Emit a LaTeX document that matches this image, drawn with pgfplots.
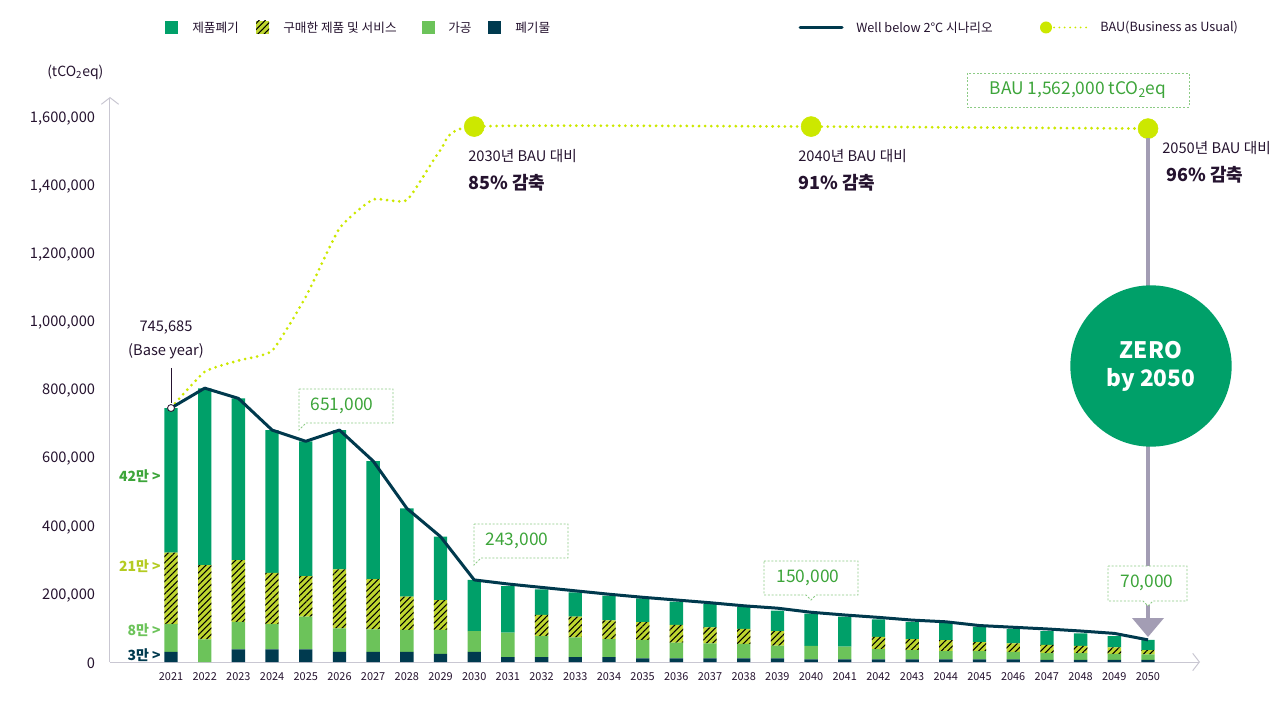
\documentclass[border=0pt]{standalone}
\usepackage{fontspec}
\setmainfont{Noto Sans CJK KR}
\usepackage{pgfplots}
\pgfplotsset{compat=1.18}
\usepackage{pgfplotstable}
\usetikzlibrary{patterns.meta,arrows.meta}

\definecolor{prodg}{HTML}{00A069}
\definecolor{hatchc}{HTML}{BED62F}
\definecolor{procg}{HTML}{6CC35A}
\definecolor{wastec}{HTML}{003A4F}
\definecolor{wbc}{HTML}{00394D}
\definecolor{bauc}{HTML}{CCE800}
\definecolor{txt}{HTML}{25132F}
\definecolor{callg}{HTML}{3DA53A}
\definecolor{boxg}{HTML}{8CCB85}
\definecolor{arrowc}{HTML}{A39DB4}
\definecolor{axisgray}{HTML}{C9C7D2}
\definecolor{lab21}{HTML}{B4CB22}

% stacked bars: 폐기물, 가공, 구매한 제품 및 서비스, 제품폐기
\pgfplotstableread{
year dark light hatch green
2021 30000 81000 210000 424685
2022 0 66600 218000 519000
2023 37000 81000 181000 475000
2024 37000 74000 151000 419000
2025 37000 96000 119000 396000
2026 30000 69000 173000 409000
2027 30000 66000 147000 347000
2028 30000 64000 98000 259000
2029 23500 70500 88000 186000
2030 30000 61000 0 150000
2031 14000 72000 0 137000
2032 14000 62000 62000 75000
2033 14000 58500 60500 71500
2034 14000 53000 55000 73000
2035 11000 54000 52000 70000
2036 11000 46000 52000 68000
2037 11000 44000 47000 68000
2038 11000 42000 44000 64000
2039 11000 37000 43000 60000
2040 8000 39000 0 95000
2041 8000 37000 0 88000
2042 8000 30000 36000 51000
2043 8000 27000 32000 51000
2044 8000 24000 32000 50000
2045 8000 24000 26000 46000
2046 8000 22000 25000 42000
2047 6000 20000 24000 41000
2048 6000 20000 21000 37000
2049 6000 17500 19500 33000
2050 6000 16500 12500 30000
}\bars

% Well below 2°C
\pgfplotstableread{
year v
2021 745685
2022 804000
2023 774000
2024 681000
2025 648000
2026 681000
2027 590000
2028 451000
2029 368000
2030 241000
2031 229000
2032 219000
2033 209000
2034 199000
2035 190000
2036 182000
2037 174000
2038 165000
2039 158000
2040 146000
2041 138000
2042 131000
2043 123000
2044 118000
2045 107000
2046 102000
2047 97000
2048 91000
2049 84000
2050 65000
}\wb

% BAU
\pgfplotstableread{
year v
2021 745685
2022 852000
2023 885000
2024 914000
2025 1072000
2026 1273000
2027 1358000
2028 1356000
2029 1503000
2030 1572000
2040 1572000
2050 1566000
}\bau

\pgfplotsset{base/.style={
  at={(82.5pt,39.75pt)}, anchor=south west, scale only axis,
  width=817.5pt, height=423.75pt,
  xmin=2019.189, xmax=2051.543, ymin=0, ymax=1658800,
  enlargelimits=false, clip=false}}

\begin{document}
\begin{tikzpicture}
\begin{axis}[base, ybar stacked, bar width=10pt,
  axis x line=bottom, axis y line=left,
  axis line style={draw=axisgray, line width=0.75pt},
  x axis line style={-{Straight Barb[length=5pt,width=13pt,line width=0.75pt]}},
  y axis line style={-{Straight Barb[length=5pt,width=13pt,line width=0.75pt]}},
  major tick length=0pt,
  xtick={2021,2022,...,2050},
  ytick={0,200000,400000,600000,800000,1000000,1200000,1400000,1600000},
  scaled y ticks=false,
  /pgf/number format/.cd, fixed, 1000 sep={,}, assume math mode=true, /pgfplots/.cd,
  yticklabel style={font=\fontsize{11}{13}\selectfont, text=txt, anchor=east, inner sep=0pt, xshift=-11pt, yshift=-1pt},
  xticklabel style={font=\fontsize{8.2}{10}\selectfont, text=txt, anchor=north, inner sep=0pt, yshift=-8pt, /pgf/number format/1000 sep={}},
]
\addplot[fill=wastec, draw=none] table[x=year,y=dark]{\bars};
\addplot[fill=procg, draw=none] table[x=year,y=light]{\bars};
\addplot[fill=hatchc, draw=none, postaction={pattern={Lines[angle=45,distance=3.3pt,line width=0.8pt]}, pattern color=black}] table[x=year,y=hatch]{\bars};
\addplot[fill=prodg, draw=none] table[x=year,y=green]{\bars};
\end{axis}

\begin{axis}[base, hide axis]
\addplot[color=bauc, line width=2.3pt, dash pattern=on 0pt off 4.6pt, line cap=round, smooth, tension=0.3, mark=none] table[x=year,y=v]{\bau};
\addplot[color=wbc, line width=2.25pt, line join=round, mark=none] table[x=year,y=v]{\wb};
\addplot[only marks, mark=*, mark size=7.5pt, color=bauc] coordinates {(2030,1572000) (2040,1572000) (2050,1566000)};
\addplot[only marks, mark=*, mark size=2.6pt, mark options={fill=white, draw=txt, line width=0.6pt}] coordinates {(2021,745685)};
\end{axis}

% annotations in pixel coordinates of the reference
\begin{scope}[shift={(0pt,536.25pt)}, x=0.75pt, y=-0.75pt]
  % arrow to 2050
  \draw[arrowc, line width=3pt] (1148,138) -- (1148,622);
  \fill[arrowc] (1132,618) -- (1164,618) -- (1148,637) -- cycle;
  \node[circle, fill=prodg, minimum size=121pt, inner sep=0pt, text=white, align=center,
        font=\fontsize{17}{21}\selectfont\bfseries] at (1151,366) {ZERO\\by 2050};

  % base year
  \draw[txt, line width=0.6pt] (171,368) -- (171,403.5);
  \node[text=txt, font=\fontsize{11}{13}\selectfont] at (166,328) {745,685};
  \node[text=txt, font=\fontsize{11}{13}\selectfont] at (166,351) {(Base year)};

  % callouts
  \tikzset{callout/.style={fill=white, draw=boxg, line width=0.6pt, dash pattern=on 1.5pt off 1.3pt}}
  \filldraw[callout] (299,389) -- (393,389) -- (393,423) -- (306,423) -- (299,430) -- cycle;
  \node[text=callg, font=\fontsize{13}{15}\selectfont] at (342,406) {651,000};
  \filldraw[callout] (474,524) -- (568,524) -- (568,558) -- (481,558) -- (474,565) -- cycle;
  \node[text=callg, font=\fontsize{13}{15}\selectfont] at (517,541) {243,000};
  \filldraw[callout] (764,561) -- (858,561) -- (858,595) -- (816,595) -- (811,600) -- (806,595) -- (764,595) -- cycle;
  \node[text=callg, font=\fontsize{13}{15}\selectfont] at (808,578) {150,000};
  \filldraw[callout] (1108,566) -- (1187,566) -- (1187,601) -- (1153,601) -- (1148,606) -- (1143,601) -- (1108,601) -- cycle;
  \node[text=callg, font=\fontsize{13}{15}\selectfont] at (1147,583) {70,000};
  \filldraw[callout] (967,73) rectangle (1189,107);
  \node[text=callg, font=\fontsize{13}{15}\selectfont] at (1078,90) {BAU 1,562,000 tCO\textsubscript{2}eq};

  % reduction texts
  \node[anchor=west, inner sep=0pt, text=txt, font=\fontsize{11}{13}\selectfont] at (468,156) {2030년 BAU 대비};
  \node[anchor=west, inner sep=0pt, text=txt, font=\fontsize{13.5}{16}\selectfont\bfseries] at (468,183) {85\% 감축};
  \node[anchor=west, inner sep=0pt, text=txt, font=\fontsize{11}{13}\selectfont] at (798,156) {2040년 BAU 대비};
  \node[anchor=west, inner sep=0pt, text=txt, font=\fontsize{13.5}{16}\selectfont\bfseries] at (798,183) {91\% 감축};
  \node[anchor=west, inner sep=0pt, text=txt, font=\fontsize{11}{13}\selectfont] at (1162,148) {2050년 BAU 대비};
  \node[anchor=west, inner sep=0pt, text=txt, font=\fontsize{13.5}{16}\selectfont\bfseries] at (1166,175) {96\% 감축};

  % left share labels
  \node[anchor=east, inner sep=0pt, text=callg, font=\fontsize{10.5}{12}\selectfont\bfseries] at (161,476) {42만 >};
  \node[anchor=east, inner sep=0pt, text=lab21, font=\fontsize{10.5}{12}\selectfont\bfseries] at (161,566) {21만 >};
  \node[anchor=east, inner sep=0pt, text=procg, font=\fontsize{10.5}{12}\selectfont\bfseries] at (161,630) {8만 >};
  \node[anchor=east, inner sep=0pt, text=wastec, font=\fontsize{10.5}{12}\selectfont\bfseries] at (161,655) {3만 >};

  % unit
  \node[anchor=west, inner sep=0pt, text=txt, font=\fontsize{10.5}{12}\selectfont] at (47,72) {(tCO\textsubscript{2}eq)};

  % legend
  \tikzset{legtext/.style={anchor=west, inner sep=0pt, text=txt, font=\fontsize{9.5}{11}\selectfont}}
  \fill[prodg] (165,21) rectangle (178,34);
  \node[legtext] at (192,27.5) {제품폐기};
  \fill[hatchc] (256,21) rectangle (269,34);
  \fill[pattern={Lines[angle=45,distance=3.3pt,line width=0.8pt]}, pattern color=black] (256,21) rectangle (269,34);
  \node[legtext] at (283,27.5) {구매한 제품 및 서비스};
  \fill[procg] (422,21) rectangle (435,34);
  \node[legtext] at (448,27.5) {가공};
  \fill[wastec] (488,21) rectangle (501,34);
  \node[legtext] at (515,27.5) {폐기물};
  \draw[wbc, line width=2.25pt, line cap=round] (800,27.5) -- (842,27.5);
  \node[legtext] at (856,27.5) {Well below 2°C 시나리오};
  \draw[bauc, line width=1.5pt, dash pattern=on 0pt off 4pt, line cap=round] (1054,27.5) -- (1088,27.5);
  \fill[bauc] (1046,27.5) circle[radius=4.5pt];
  \node[legtext] at (1100,27.5) {BAU(Business as Usual)};
\end{scope}

\pgfresetboundingbox
\useasboundingbox (0,0) rectangle (964.5pt,536.25pt);
\end{tikzpicture}
\end{document}
